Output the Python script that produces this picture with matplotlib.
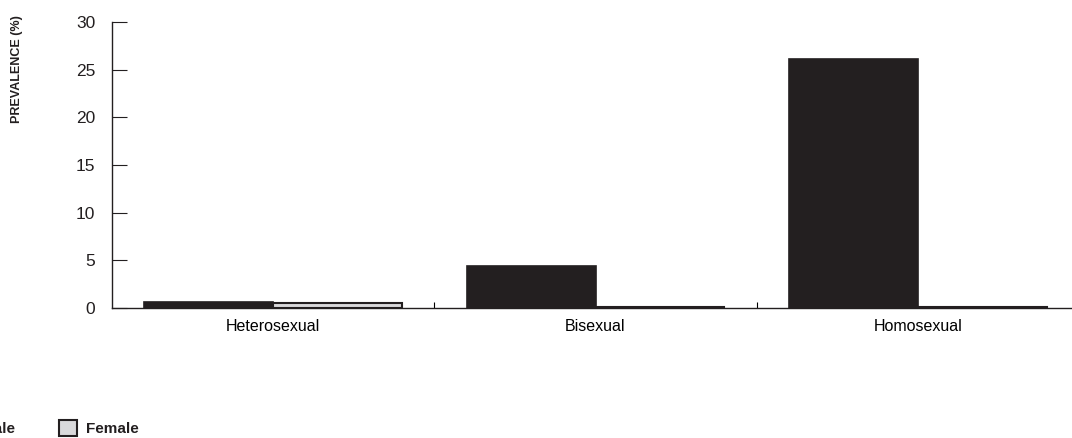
import numpy as np
import matplotlib
matplotlib.use("Agg")
import matplotlib.pyplot as plt
from matplotlib import font_manager

# --- data ---
categories = ["Heterosexual", "Bisexual", "Homosexual"]
male = [0.6, 4.4, 26.1]
female = [0.5, 0.1, 0.1]
y_ticks = [0, 5, 10, 15, 20, 25, 30]

MALE_COLOR = "#231f20"
FEMALE_COLOR = "#d9d9db"

names = {f.name for f in font_manager.fontManager.ttflist}
family = "Liberation Sans Narrow" if "Liberation Sans Narrow" in names else "Liberation Sans"
plt.rcParams["font.family"] = [family, "DejaVu Sans"]

fig = plt.figure(figsize=(10.72, 4.38), dpi=100)
ax = fig.add_axes([112 / 1072, 1 - 308 / 438, 967 / 1072, 286 / 438])

x = np.arange(len(categories)) + 0.5
width = 0.4
ax.bar(x - width / 2, male, width, color=MALE_COLOR, edgecolor=MALE_COLOR,
       linewidth=1.2, label="Male")
ax.bar(x + width / 2, female, width, color=FEMALE_COLOR, edgecolor=MALE_COLOR,
       linewidth=1.5, label="Female")

ax.set_xlim(0, 3)
ax.set_ylim(0, 30)
ax.set_yticks(y_ticks)
ax.set_yticklabels([str(v) for v in y_ticks], fontsize=12.5)
ax.tick_params(axis="y", direction="in", length=11, width=0.8, pad=12, colors="#231f20")

# group separators as x ticks, category names as minor labels
ax.set_xticks([1, 2])
ax.set_xticklabels([])
ax.tick_params(axis="x", which="major", direction="in", length=4, width=0.8)
ax.set_xticks(x, minor=True)
ax.set_xticklabels(categories, minor=True, fontsize=11.5)
ax.tick_params(axis="x", which="minor", length=0, pad=8)

for s in ["top", "right"]:
    ax.spines[s].set_visible(False)
for s in ["left", "bottom"]:
    ax.spines[s].set_linewidth(1.0)
    ax.spines[s].set_color("#231f20")

fig.text(17 / 1072, 1 - 69 / 438, "PREVALENCE (%)", rotation=90, ha="center",
         va="center", fontsize=9, fontweight="bold", color="#231f20")

leg = fig.legend(loc="center left", bbox_to_anchor=(-46 / 1072, 1 - 428 / 438),
                 ncol=2, frameon=False, fontsize=11, handlelength=1.2,
                 handleheight=1.2, handletextpad=0.55, columnspacing=2.9,
                 borderpad=0, borderaxespad=0)
for t in leg.get_texts():
    t.set_fontweight("bold")
    t.set_color("#231f20")

fig.savefig("out.png", dpi=100)
